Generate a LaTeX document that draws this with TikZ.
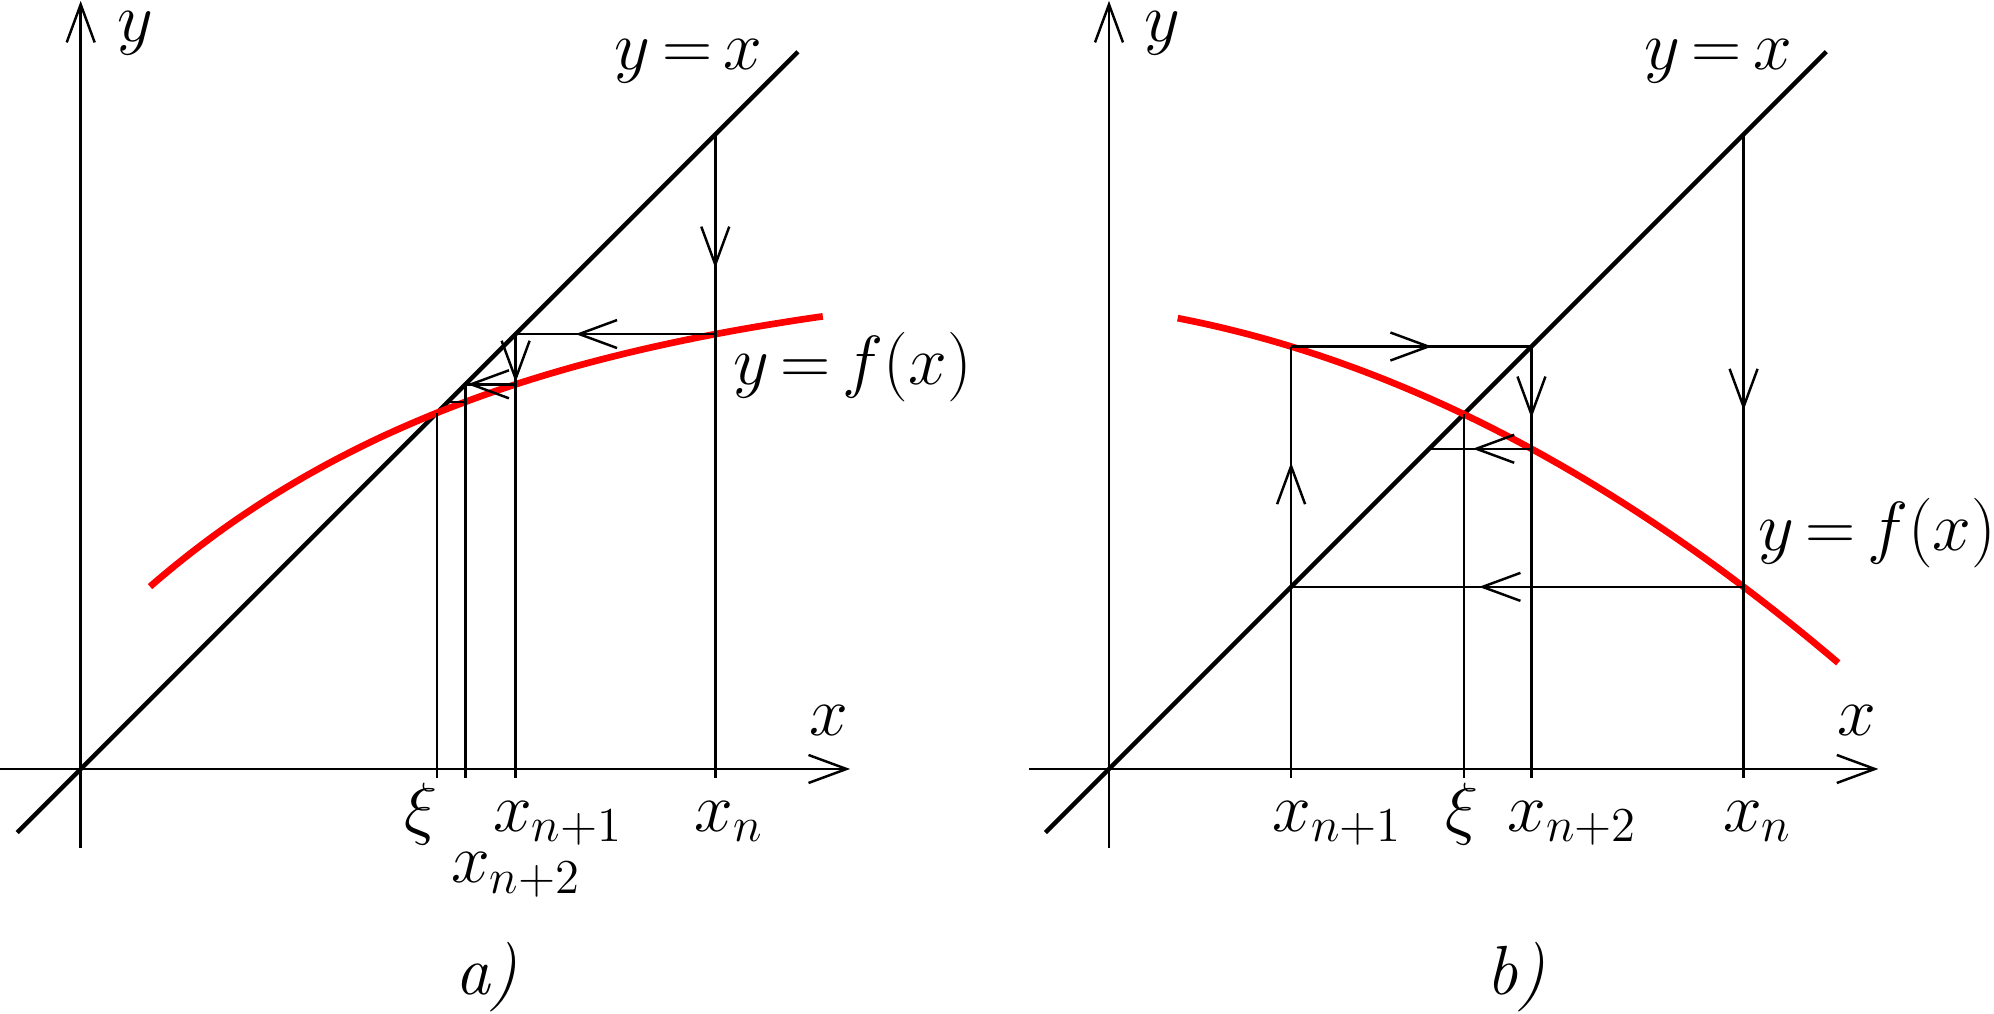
\documentclass[tikz,border=0pt]{standalone}
\usepackage{fix-cm}
\usepackage{tikz}
\usetikzlibrary{arrows.meta, decorations.markings}
\thickmuskip=3mu

\tikzset{
  >={Straight Barb[length=3.8mm, width=2.8mm]},
  axisline/.style={line width=0.7pt, ->},
  diagline/.style={line width=1.25pt},
  fcurve/.style={line width=1.9pt, red},
  cobweb/.style={line width=0.7pt},
  arrowat/.style={postaction={decorate},
    decoration={markings, mark=at position #1 with {\arrow{>}}}},
  lab/.style={anchor=base, inner sep=0pt},
}

\begin{document}
\begin{tikzpicture}[x=1.2717cm, y=1.2717cm, font=\fontsize{19.8}{24}\selectfont]
  \useasboundingbox (-0.6346,-1.9266) rectangle (15.0452,6.047);

  % a) monotone convergence
  \begin{scope}
    \draw[axisline] (-0.635,0) -- (6.05,0);
    \draw[axisline] (0,-0.62) -- (0,6.04);
    \draw[diagline] (-0.5,-0.5) -- (5.64,5.64);
    \draw[fcurve] plot[domain=0.545:5.836, samples=80]
      (\x,{3.975-3.061*exp(-0.342*\x)});
    \draw[cobweb, arrowat=0.67] (4.99,4.99) -- (4.99,3.42);
    \draw[cobweb, arrowat=0.70] (4.99,3.42) -- (3.42,3.42);
    \draw[cobweb, arrowat=0.96] (3.42,3.42) -- (3.42,3.025);
    \draw[cobweb, arrowat=0.96] (3.42,3.025) -- (3.025,3.025);
    \draw[cobweb] (3.025,2.887) -- (2.887,2.887);
    \foreach \t/\s in {4.99/3.42, 3.42/3.025, 3.025/3.025, 2.80/2.80}
      \draw[cobweb] (\t,\s) -- (\t,-0.07);
    \node[lab] (a-y) at (0.427,5.72) {$y$};
    \node[lab] (a-yx) at (4.78,5.497) {$y=x$};
    \node[lab] (a-x) at (5.885,0.267) {$x$};
    \node[lab] (a-fx) at (6.07,3.02) {$y=f(x)$};
    \node[lab] (a-xi) at (2.676,-0.49) {$\xi$};
    \node[lab] (a-x2) at (3.423,-0.896) {$x_{n+2}$};
    \node[lab] (a-x1) at (3.753,-0.49) {$x_{n+1}$};
    \node[lab] (a-xn) at (5.098,-0.49) {$x_n$};
    \node[lab] (a-cap) at (3.19,-1.777) {\textit{a)}};
  \end{scope}

  % b) oscillating convergence
  \begin{scope}[shift={(8.086,0)}]
    \draw[axisline] (-0.63,0) -- (6.05,0);
    \draw[axisline] (0,-0.62) -- (0,6.04);
    \draw[diagline] (-0.5,-0.5) -- (5.64,5.64);
    \draw[fcurve] plot[domain=0.54:5.735, samples=80]
      (\x,{3.631-0.1251*\x-0.06323*\x*\x});
    \draw[cobweb, arrowat=0.61] (4.99,4.99) -- (4.99,1.432);
    \draw[cobweb, arrowat=0.585] (4.99,1.432) -- (1.432,1.432);
    \draw[cobweb, arrowat=0.517] (1.432,1.432) -- (1.432,3.322);
    \draw[cobweb, arrowat=0.586] (1.432,3.322) -- (3.322,3.322);
    \draw[cobweb, arrowat=0.70] (3.322,3.322) -- (3.322,2.518);
    \draw[cobweb, arrowat=0.575] (3.322,2.518) -- (2.518,2.518);
    \foreach \t/\s in {4.99/1.432, 1.432/1.432, 3.322/2.518, 2.79/2.79}
      \draw[cobweb] (\t,\s) -- (\t,-0.07);
    \node[lab] (b-y) at (0.417,5.72) {$y$};
    \node[lab] (b-yx) at (4.79,5.497) {$y=x$};
    \node[lab] (b-x) at (5.88,0.267) {$x$};
    \node[lab] (b-fx) at (6.04,1.72) {$y=f(x)$};
    \node[lab] (b-x1) at (1.797,-0.49) {$x_{n+1}$};
    \node[lab] (b-xi) at (2.776,-0.49) {$\xi$};
    \node[lab] (b-x2) at (3.643,-0.49) {$x_{n+2}$};
    \node[lab] (b-xn) at (5.10,-0.49) {$x_n$};
    \node[lab] (b-cap) at (3.20,-1.777) {\textit{b)}};
  \end{scope}
\end{tikzpicture}
\end{document}
